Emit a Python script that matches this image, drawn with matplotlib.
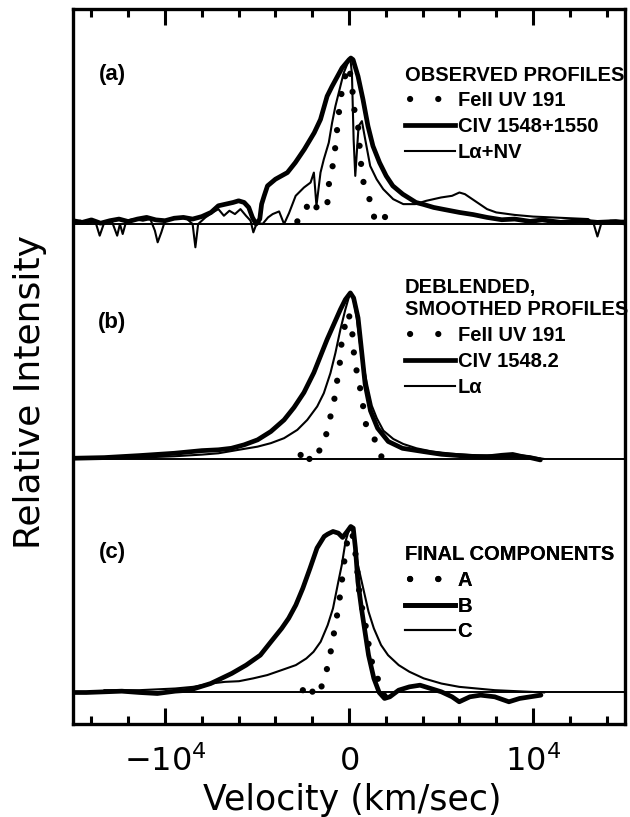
import matplotlib.pyplot as plt
from matplotlib.lines import Line2D
from matplotlib.ticker import FixedLocator, MultipleLocator, FixedFormatter

# ---- (a) observed profiles: velocity (km/s), intensity relative to peak ----
a_civ_v = [-15000, -14500, -14000, -13500, -13000, -12500, -12000, -11500, -11000, -10500,
           -10000, -9500, -9000, -8500, -8000, -7500, -7100, -6700, -6300, -6000,
           -5700, -5450, -5250, -5050, -4850, -4750, -4610, -4430, -4000, -3350,
           -2920, -2430, -1890, -1550, -1190, -920, -380, 0, 100, 220,
           490, 760, 1030, 1300, 1660, 2020, 2380, 2920, 3640, 4050,
           4600, 5200, 6000, 6750, 7500, 8300, 9000, 9840, 10500, 11500,
           12500, 13500, 14500, 15000]
a_civ_h = [0.02, 0.01, 0.025, 0.005, 0.02, 0.03, 0.015, 0.03, 0.04, 0.025,
           0.02, 0.035, 0.04, 0.03, 0.045, 0.07, 0.11, 0.12, 0.13, 0.14,
           0.13, 0.10, 0.04, 0.0, 0.03, 0.12, 0.17, 0.23, 0.27, 0.31,
           0.37, 0.45, 0.55, 0.63, 0.77, 0.83, 0.94, 0.99, 1.0, 0.99,
           0.89, 0.75, 0.59, 0.47, 0.37, 0.29, 0.23, 0.18, 0.13, 0.118,
           0.10, 0.087, 0.07, 0.057, 0.04, 0.026, 0.03, 0.016, 0.025, 0.01,
           0.02, 0.01, 0.015, 0.006]

a_lya_v = [-15000, -14600, -14200, -13800, -13550, -13300, -12900, -12600, -12450, -12300,
           -12100, -11700, -11200, -10800, -10550, -10400, -10200, -10000, -9600, -9200,
           -8800, -8500, -8350, -8200, -7800, -7400, -7100, -6800, -6500, -6200,
           -5900, -5600, -5350, -5200, -5000, -4700, -4400, -4150, -3800, -3530,
           -3260, -2900, -2450, -2090, -1910, -1770, -1550, -1370, -1100, -920,
           -740, -560, -290, 0, 72, 160, 250, 340, 520, 700,
           880, 1150, 1500, 1860, 2400, 2950, 3600, 4200, 5000, 5600,
           6000, 6300, 6700, 7100, 7500, 8000, 9000, 10000, 11000, 12000,
           13000, 13300, 13500, 13700, 14200, 15000]
a_lya_h = [0.01, 0.02, 0.0, 0.02, -0.07, 0.01, 0.02, -0.07, 0.0, -0.06,
           0.02, 0.03, 0.02, 0.03, -0.04, -0.11, -0.05, 0.02, 0.03, 0.04,
           0.03, 0.0, -0.14, 0.0, 0.04, 0.07, 0.09, 0.05, 0.08, 0.06,
           0.09, 0.05, 0.02, -0.05, 0.01, 0.0, 0.04, 0.06, 0.076, 0.0,
           0.066, 0.17, 0.22, 0.25, 0.31, 0.11, 0.31, 0.39, 0.49, 0.61,
           0.71, 0.79, 0.91, 0.99, 1.0, 0.9, 0.51, 0.29, 0.59, 0.62,
           0.51, 0.35, 0.27, 0.21, 0.15, 0.12, 0.12, 0.14, 0.16, 0.17,
           0.19, 0.18, 0.15, 0.12, 0.09, 0.07, 0.055, 0.045, 0.04, 0.035,
           0.03, 0.0, -0.075, 0.0, 0.02, 0.02]

a_fe_v = [-2810, -2630, -2305, -1998, -1640, -1190, -1100, -920, -740, -613,
          -470, -250, 0, 162, 288, 522, 613, 793, 1153, 1423,
          1873, 2055, 2415]
a_fe_h = [0.016, 0.036, 0.106, 0.056, 0.127, 0.106, 0.237, 0.327, 0.468, 0.608,
          0.749, 0.88, 0.95, 0.83, 0.69, 0.568, 0.398, 0.247, 0.137, 0.016,
          0.056, 0.026, -0.034]

# ---- (b) deblended, smoothed profiles ----
b_civ_v = [-15000, -13300, -11400, -9500, -8000, -7100, -6400, -5700, -4970, -4250,
           -3530, -2990, -2450, -1910, -1550, -1190, -830, -470, -200, 72,
           250, 491, 684, 877, 1167, 1553, 2132, 2904, 4060, 5020,
           5990, 6950, 7920, 8880, 9850, 10400]
b_civ_h = [0.004, 0.008, 0.02, 0.034, 0.05, 0.055, 0.064, 0.085, 0.115, 0.165,
           0.235, 0.31, 0.40, 0.52, 0.62, 0.72, 0.81, 0.90, 0.96, 1.0,
           0.97, 0.85, 0.65, 0.45, 0.29, 0.185, 0.105, 0.064, 0.044, 0.028,
           0.02, 0.014, 0.014, 0.02, 0.008, -0.006]

b_lya_v = [-13300, -11400, -9500, -8000, -7100, -6050, -4970, -4250, -3530, -2810,
           -2270, -1730, -1370, -1010, -740, -470, -200, -20, 72, 250,
           430, 610, 790, 1000, 1240, 1510, 1870, 2410, 2950, 3670,
           4500, 5500, 6500, 7500, 8300, 8900, 9500, 10000, 10600]
b_lya_h = [0.0, 0.008, 0.016, 0.026, 0.034, 0.054, 0.074, 0.095, 0.125, 0.175,
           0.235, 0.316, 0.396, 0.517, 0.638, 0.779, 0.90, 0.97, 1.0, 0.96,
           0.84, 0.68, 0.56, 0.44, 0.32, 0.245, 0.17, 0.12, 0.09, 0.064,
           0.045, 0.032, 0.024, 0.02, 0.03, 0.035, 0.02, 0.01, 0.0]

b_fe_v = [-2630, -2310, -1910, -1730, -1370, -1100, -830, -470, -380, -20,
          216, 290, 520, 740, 940, 1240, 1690, 2050]
b_fe_h = [0.024, -0.036, 0.054, 0.034, 0.085, 0.215, 0.336, 0.60, 0.74, 0.88,
          0.73, 0.59, 0.48, 0.336, 0.195, 0.16, 0.034, -0.066]

# ---- (c) final components A, B, C ----
c_a_v = [-2510, -2120, -1830, -1540, -1350, -1060, -870, -675, -480, -190,
         0, 190, 385, 580, 868, 1160, 1350, 1640, 2120]
c_a_h = [0.014, -0.036, 0.054, 0.024, 0.074, 0.205, 0.326, 0.447, 0.588, 0.85,
         0.97, 0.95, 0.81, 0.577, 0.427, 0.225, 0.135, 0.064, -0.076]

c_b_v = [-15000, -14280, -13310, -12350, -11380, -10420, -9450, -8680, -8100, -7520,
         -7140, -6370, -5590, -4820, -4240, -3660, -3280, -2890, -2510, -2120,
         -1740, -1350, -1160, -870, -580, -350, -100, 95, 230, 347,
         482, 675, 868, 1061, 1350, 1640, 1930, 2220, 2700, 3280,
         3860, 4440, 5020, 5600, 5990, 6570, 7150, 7920, 8690, 9270,
         9850, 10430]
c_b_h = [0.0, 0.0, 0.004, 0.008, 0.0, -0.006, 0.008, 0.014, 0.034, 0.054,
         0.074, 0.115, 0.165, 0.225, 0.306, 0.386, 0.447, 0.527, 0.628, 0.748,
         0.87, 0.94, 0.954, 0.97, 0.96, 0.934, 0.97, 1.0, 0.99, 0.87,
         0.668, 0.507, 0.366, 0.225, 0.085, 0.0, -0.036, -0.026, 0.014, 0.034,
         0.044, 0.024, 0.004, -0.026, -0.056, -0.026, -0.016, -0.026, -0.056, -0.036,
         -0.026, -0.016]

c_c_v = [-13310, -11380, -9450, -8480, -7520, -6750, -5980, -5210, -4440, -3660,
         -2890, -2320, -1930, -1540, -1160, -870, -580, -390, -190, 0,
         190, 290, 480, 770, 1060, 1350, 1740, 2120, 2700, 3280,
         4060, 5020, 5990, 6950, 7920, 9850, 10620]
c_c_h = [0.014, 0.014, 0.024, 0.034, 0.054, 0.064, 0.068, 0.085, 0.105, 0.135,
         0.165, 0.205, 0.245, 0.306, 0.406, 0.507, 0.668, 0.77, 0.91, 0.98,
         0.98, 0.91, 0.77, 0.628, 0.487, 0.386, 0.286, 0.225, 0.165, 0.125,
         0.085, 0.054, 0.034, 0.024, 0.014, 0.004, 0.0]

xticks = [-10000, 0, 10000]
xticklabels = [r'$-10^4$', r'$0$', r'$10^4$']

# vertical offset of each panel's zero level, in units of peak height
off_a, off_b, off_c = 2.822, 1.407, 0.0

THICK, THIN, DOT = 3.4, 1.5, 4.5
dots = (0, (0.01, 2.9))
label_font = {'family': ['Liberation Sans', 'DejaVu Sans'], 'weight': 'bold', 'size': 14.5}


def shift(h, off):
    return [y + off for y in h]


def draw(v, h, off, style):
    if style == 'dots':
        ax.plot(v, shift(h, off), color='black', lw=DOT, ls=dots,
                dash_capstyle='round')
    else:
        ax.plot(v, shift(h, off), color='black', lw=THICK if style == 'thick' else THIN,
                solid_joinstyle='round', solid_capstyle='round')


def key(style):
    if style == 'dots':
        return Line2D([], [], color='black', lw=DOT, ls=(3.7, (0.01, 4.5)),
                      dash_capstyle='round')
    return Line2D([], [], color='black', lw=THICK if style == 'thick' else THIN)


def panel_legend(title, labels, top):
    leg = ax.legend([key('dots'), key('thick'), key('thin')], labels, title=title,
                    loc='upper left', bbox_to_anchor=(0.601, top), frameon=False,
                    prop=label_font, title_fontproperties=label_font, alignment='left',
                    handlelength=2.5, handletextpad=0.12, labelspacing=0.34,
                    borderpad=0, borderaxespad=0)
    ax.add_artist(leg)


fig = plt.figure(figsize=(6.3, 8.17), dpi=100)
ax = fig.add_axes([0.1159, 0.1144, 0.8762, 0.8745])

for off in (off_a, off_b, off_c):
    ax.axhline(off, color='black', lw=1.4)

draw(a_fe_v, a_fe_h, off_a, 'dots')
draw(a_civ_v, a_civ_h, off_a, 'thick')
draw(a_lya_v, a_lya_h, off_a, 'thin')

draw(b_fe_v, b_fe_h, off_b, 'dots')
draw(b_civ_v, b_civ_h, off_b, 'thick')
draw(b_lya_v, b_lya_h, off_b, 'thin')

draw(c_a_v, c_a_h, off_c, 'dots')
draw(c_b_v, c_b_h, off_c, 'thick')
draw(c_c_v, c_c_h, off_c, 'thin')

panel_legend('OBSERVED PROFILES', ['FeII UV 191', 'CIV 1548+1550', 'Lα+NV'], 0.921)
panel_legend('DEBLENDED,\nSMOOTHED PROFILES', ['FeII UV 191', 'CIV 1548.2', 'Lα'], 0.623)
panel_legend('FINAL COMPONENTS', ['A', 'B', 'C'], 0.250)

for txt, y in (('(a)', 0.908), ('(b)', 0.562), ('(c)', 0.239)):
    ax.text(0.071, y, txt, transform=ax.transAxes, ha='center', va='center',
            family=['Liberation Sans', 'DejaVu Sans'], weight='bold', size=16)

ax.set_xlim(-15000, 15000)
ax.set_ylim(-0.187, 4.117)
ax.xaxis.set_major_locator(FixedLocator(xticks))
ax.xaxis.set_major_formatter(FixedFormatter(xticklabels))
ax.xaxis.set_minor_locator(MultipleLocator(2000))
ax.tick_params(axis='x', which='both', direction='in', top=True, bottom=True,
               width=2.2, labelsize=23, pad=16)
ax.tick_params(axis='x', which='major', length=11.5)
ax.tick_params(axis='x', which='minor', length=5.8)
ax.set_yticks([])
for sp in ax.spines.values():
    sp.set_linewidth(2.4)

fig.text(0.5587, 0.021, 'Velocity (km/sec)', ha='center', va='center', fontsize=25)
fig.text(0.0476, 0.52, 'Relative Intensity', ha='center', va='center', rotation=90, fontsize=26)

fig.savefig('out.png', dpi=100)
